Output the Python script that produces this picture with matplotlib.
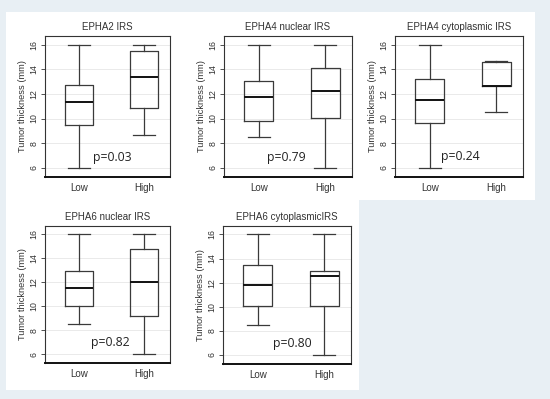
import matplotlib.pyplot as plt
from matplotlib.patches import Rectangle

plt.rcParams['font.family'] = ['Liberation Sans', 'DejaVu Sans']
plt.rcParams['font.size'] = 6

titles = ["EPHA2 IRS", "EPHA4 nuclear IRS", "EPHA4 cytoplasmic IRS",
          "EPHA6 nuclear IRS", "EPHA6 cytoplasmicIRS"]
groups = ["Low", "High"]
p_values = ["p=0.03", "p=0.79", "p=0.24", "p=0.82", "p=0.80"]

# whislo, q1, median, q3, whishi  for (Low, High)
stats_low = [
    (6.0, 9.45, 11.37, 12.75, 16.0),
    (8.5, 9.82, 11.78, 13.07, 16.0),
    (6.0, 9.63, 11.53, 13.18, 16.0),
    (8.5, 10.05, 11.55, 12.98, 16.0),
    (8.5, 10.05, 11.79, 13.5, 16.0),
]
stats_high = [
    (8.66, 10.88, 13.37, 15.49, 16.0),
    (6.0, 10.05, 12.24, 14.08, 16.0),
    (10.5, 12.6, 12.6, 14.58, 14.68),
    (6.0, 9.15, 12.04, 14.81, 16.0),
    (6.0, 10.05, 12.55, 13.0, 16.0),
]

# axes rectangles in pixels: left, top, right, bottom
W, H = 550, 399
boxes_px = [(45, 36, 170, 177), (224, 36, 352, 177), (395, 36, 523, 177),
            (45, 226, 170, 363), (223, 226, 351, 364)]
p_pos = [(0.54, 0.14), (0.49, 0.135), (0.51, 0.145), (0.52, 0.15), (0.545, 0.15)]

fig = plt.figure(figsize=(5.5, 3.99), dpi=100)
fig.patch.set_facecolor('#e8eff4')
# white panel areas
fig.patches.append(Rectangle((6 / W, 1 - 200 / H), (535 - 6) / W, (200 - 12) / H,
                             transform=fig.transFigure, facecolor='white',
                             edgecolor='none', zorder=-10))
fig.patches.append(Rectangle((6 / W, 1 - 390 / H), (359 - 6) / W, (390 - 199) / H,
                             transform=fig.transFigure, facecolor='white',
                             edgecolor='none', zorder=-10))

for i in range(5):
    l, t, r, b = boxes_px[i]
    ax = fig.add_axes([l / W, 1 - b / H, (r - l) / W, (b - t) / H])
    ax.set_zorder(5)
    ax.set_facecolor('white')
    bstats = []
    for s, lab in zip((stats_low[i], stats_high[i]), groups):
        bstats.append(dict(whislo=s[0], q1=s[1], med=s[2], q3=s[3],
                           whishi=s[4], label=lab, fliers=[]))
    ax.bxp(bstats, positions=[1, 2], widths=0.44, capwidths=0.33,
           showfliers=False,
           boxprops=dict(color='#3a3a3a', linewidth=0.9),
           whiskerprops=dict(color='#3a3a3a', linewidth=0.9),
           capprops=dict(color='#3a3a3a', linewidth=0.9),
           medianprops=dict(color='#111111', linewidth=1.4))
    ax.set_xlim(0.48, 2.4)
    ax.set_ylim(5.25, 16.7)
    ax.set_yticks([6, 8, 10, 12, 14, 16])
    ax.yaxis.grid(True, color='#e6e6e6', linewidth=0.6)
    ax.set_axisbelow(True)
    ax.tick_params(axis='y', labelrotation=90, length=3, width=0.6,
                   labelsize=6.3, colors='#333333', pad=1.5)
    ax.tick_params(axis='x', length=0, labelsize=7, colors='#333333', pad=4.5)
    for lbl in ax.get_yticklabels():
        lbl.set_va('center')
    for side in ['top', 'right', 'left']:
        ax.spines[side].set_linewidth(0.8)
        ax.spines[side].set_color('#333333')
    ax.spines['bottom'].set_linewidth(1.4)
    ax.spines['bottom'].set_color('#111111')
    ax.set_ylabel("Tumor thickness (mm)", fontsize=6.7, color='#333333', labelpad=2)
    ax.set_title(titles[i], fontsize=7, color='#333333', pad=4)
    ax.text(p_pos[i][0], p_pos[i][1], p_values[i], transform=ax.transAxes,
            ha='center', va='center', fontsize=8.8, color='#222222',
            family=['Open Sans', 'DejaVu Sans'])

fig.savefig('out.png', dpi=100, facecolor=fig.get_facecolor())
